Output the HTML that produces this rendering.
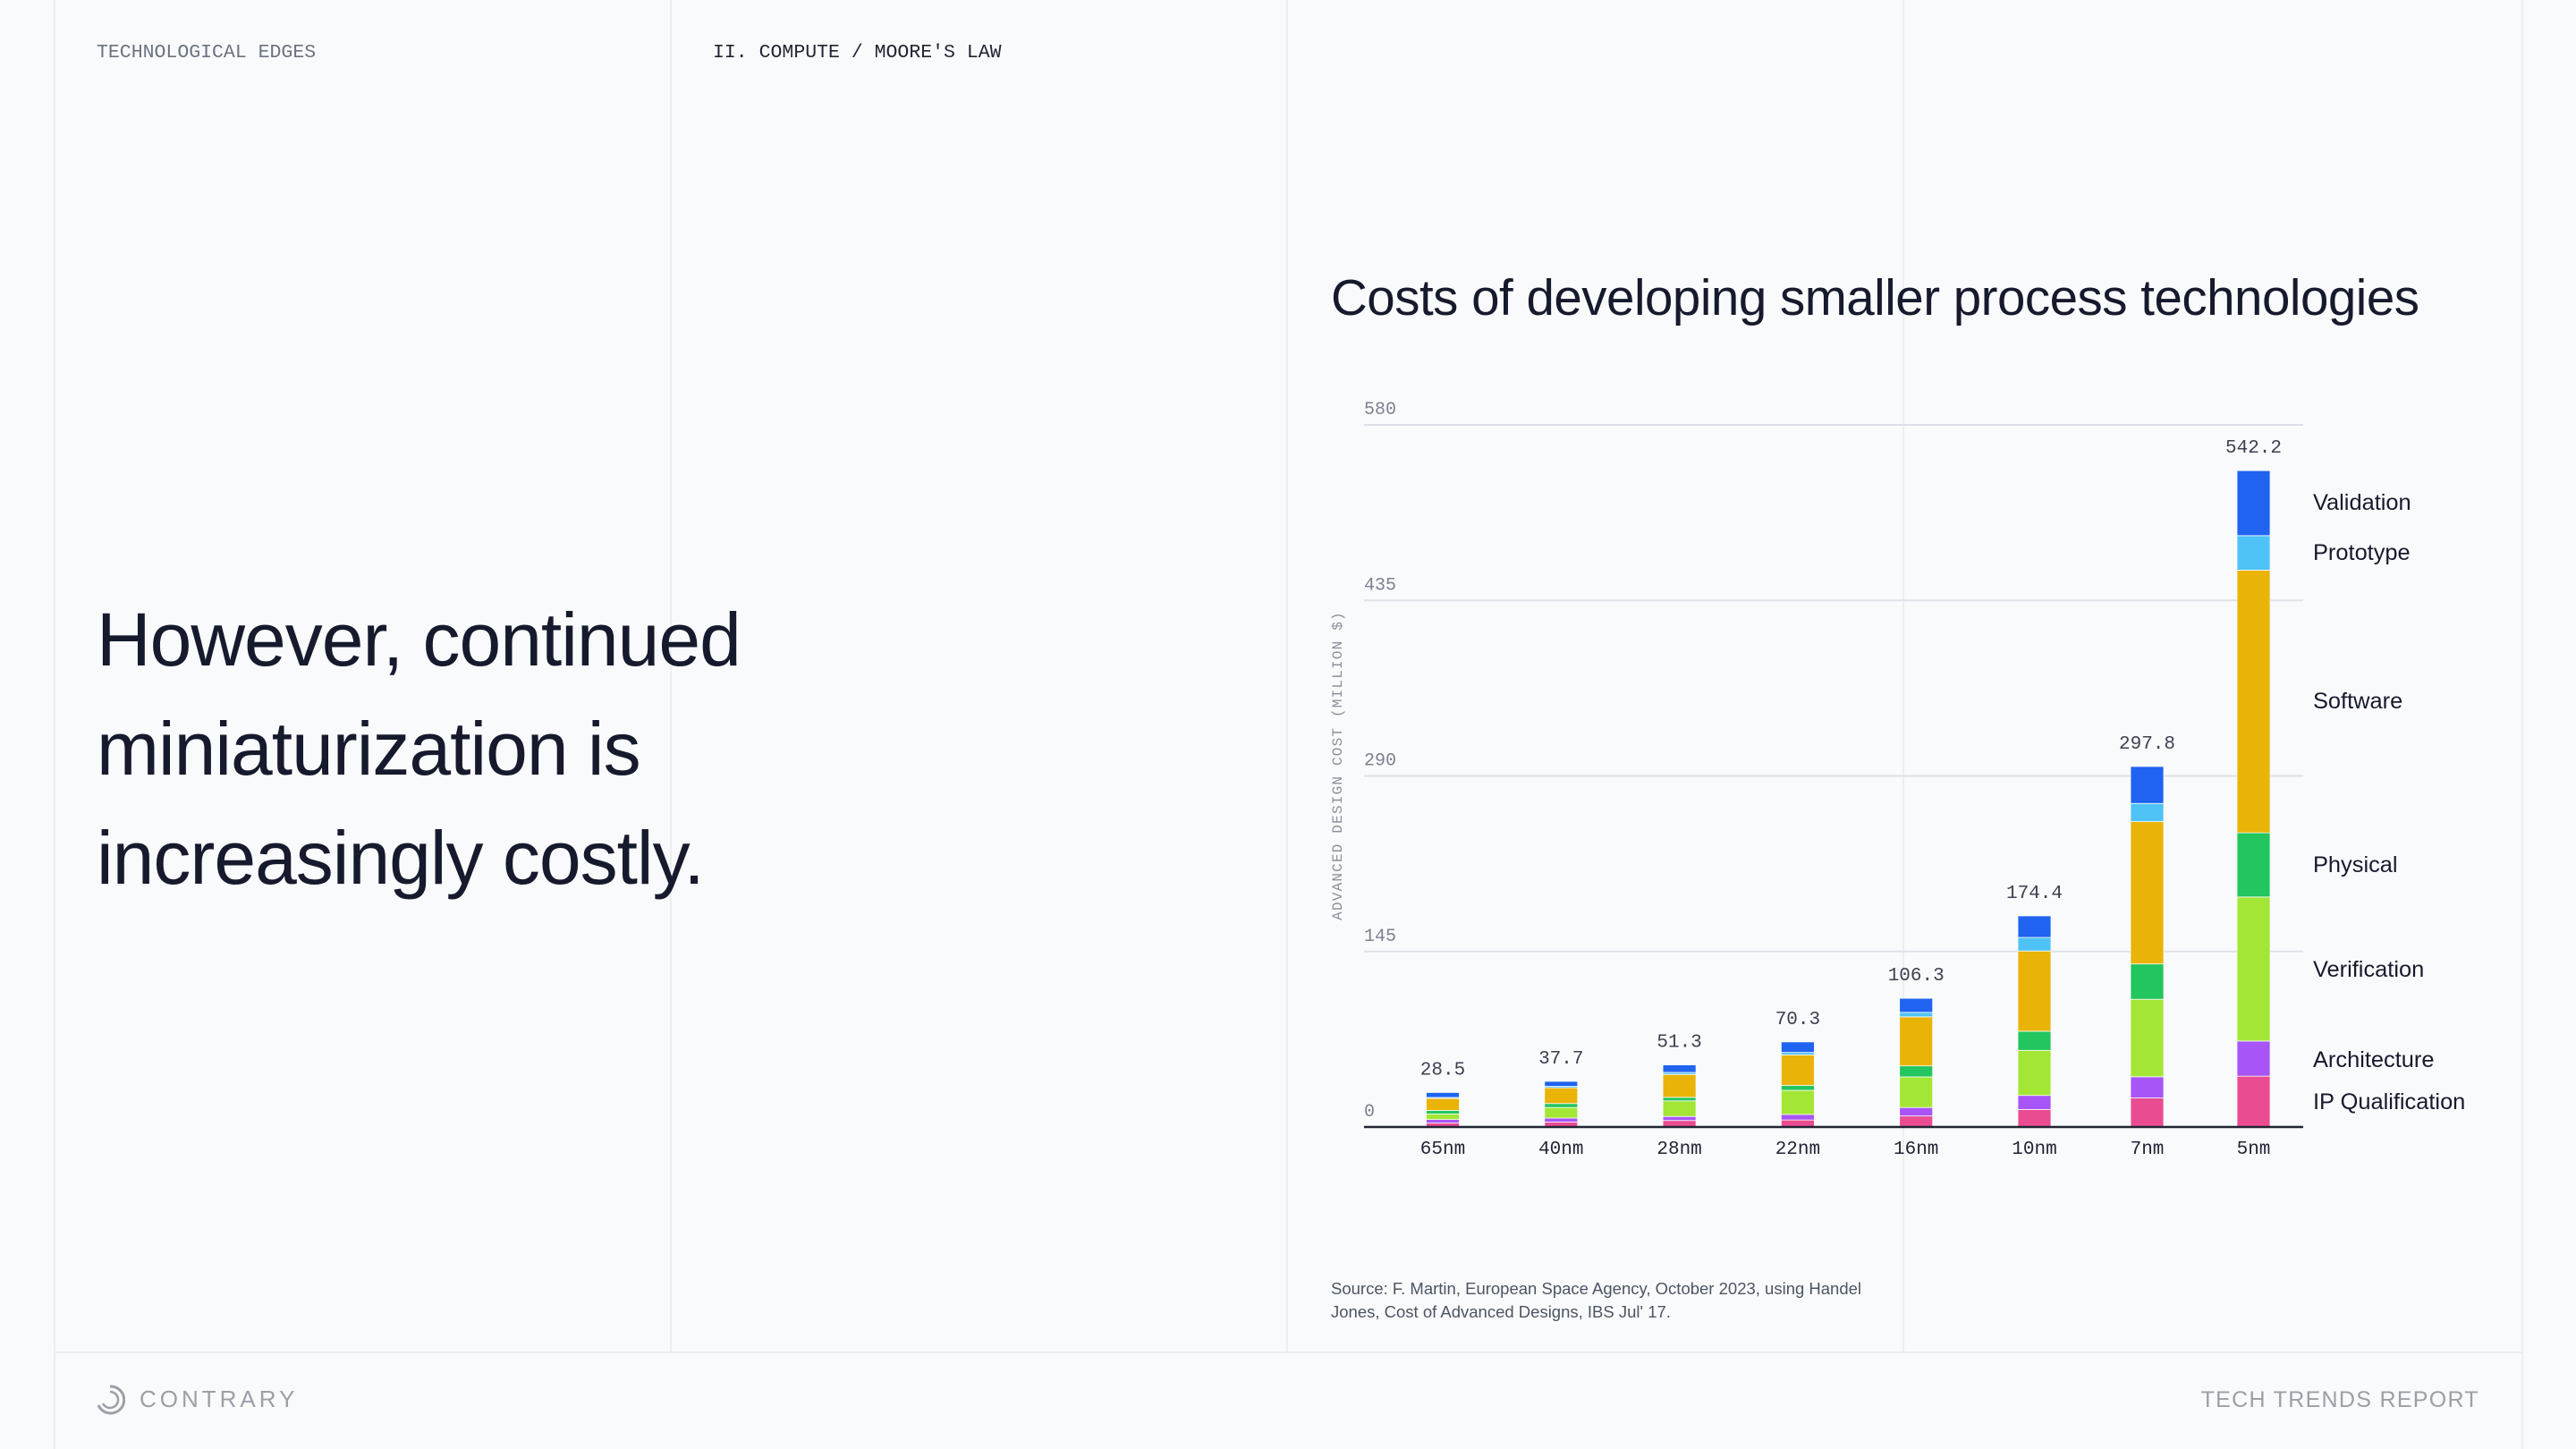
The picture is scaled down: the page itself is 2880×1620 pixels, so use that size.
<!DOCTYPE html>
<html><head><meta charset="utf-8"><style>
html,body{margin:0;padding:0;background:#f9fafb;}
body{width:2880px;height:1620px;position:relative;overflow:hidden;font-family:"Liberation Sans",sans-serif;}
.vl{position:absolute;top:0;width:2px;background:#eceef1;}
.mono{font-family:"Liberation Mono",monospace;}
</style></head><body>
<div class="vl" style="left:60px;height:1512px"></div>
<div class="vl" style="left:749px;height:1512px"></div>
<div class="vl" style="left:1438px;height:1512px"></div>
<div class="vl" style="left:2127px;height:1512px"></div>
<div class="vl" style="left:2819px;height:1620px"></div>
<div class="vl" style="left:60px;top:1512px;height:108px"></div>
<div style="position:absolute;left:60px;top:1511px;width:2760px;height:2px;background:#eceef1"></div>

<div class="mono" style="position:absolute;left:108px;top:47px;font-size:21.5px;color:#6b7280;">TECHNOLOGICAL EDGES</div>
<div class="mono" style="position:absolute;left:797px;top:47px;font-size:21.5px;color:#1f2433;">II. COMPUTE / MOORE'S LAW</div>

<div style="position:absolute;left:108px;top:654px;font-size:84px;line-height:122px;color:#151a2d;letter-spacing:-1px;">However, continued<br>miniaturization is<br>increasingly costly.</div>

<div style="position:absolute;left:1488px;top:300px;font-size:56.5px;color:#151a2d;white-space:nowrap;letter-spacing:-0.5px;">Costs of developing smaller process technologies</div>

<div style="position:absolute;left:1488px;top:1428px;font-size:18.5px;line-height:26px;color:#4b5563;">Source: F. Martin, European Space Agency, October 2023, using Handel<br>Jones, Cost of Advanced Designs, IBS Jul' 17.</div>

<div style="position:absolute;left:106px;top:1547px;">
<svg width="34" height="36" viewBox="0 0 34 36"><path d="M17 3 A15 15 0 1 1 4 24" fill="none" stroke="#9aa0a8" stroke-width="3"/><path d="M17 9 A9 9 0 1 1 9 22" fill="none" stroke="#9aa0a8" stroke-width="2.5"/></svg>
<span style="position:absolute;left:50px;top:2px;font-size:26px;letter-spacing:4px;color:#9aa0a8;">CONTRARY</span></div>
<div style="position:absolute;right:108px;top:1551px;font-size:25px;letter-spacing:1.3px;color:#9aa0a8;">TECH TRENDS REPORT</div>

<svg id="chart" width="2880" height="1620" style="position:absolute;left:0;top:0"></svg>
<script>
const categories=["65nm","40nm","28nm","22nm","16nm","10nm","7nm","5nm"];
const totals=[28.5,37.7,51.3,70.3,106.3,174.4,297.8,542.2];
const ipQualification=[3.3,4.1,5.4,5.8,9.1,14.5,24,42];
const architecture=[2.9,3.3,3.3,4.6,7,11.6,17.5,29];
const verification=[4.6,8.7,12.9,19.9,25.3,37.2,64,119];
const physical=[2.9,3.3,2.9,4.1,9.1,15.8,29.2,53];
const software=[9.9,13,18.9,25.2,40.5,66.3,117.6,217];
const prototype=[0.8,1.2,1.7,2,3.7,11.2,15,28.5];
const validation=[4.1,4.1,6.2,8.7,11.6,17.8,30.5,53.7];
const yTicks=[0,145,290,435,580];
const seriesNames=["IP Qualification","Architecture","Verification","Physical","Software","Prototype","Validation"];
const seriesColors=["#ea4c91","#a855f7","#a3e635","#22c55e","#eab308","#4fc3f7","#1f63f0"];
const series=[ipQualification,architecture,verification,physical,software,prototype,validation];

const NS="http://www.w3.org/2000/svg";
const svg=document.getElementById('chart');
const x0=1525,x1=2575,yBase=1260,yTop=475,yMax=580;
const y=v=>yBase-(v/yMax)*(yBase-yTop);
const firstC=1613,bw=37;
const xc=i=>{const n=categories.length;
  if(i<=n-3) return firstC+i*132.3;
  if(i===n-2) return firstC+(n-3)*132.3+126;
  return firstC+(n-3)*132.3+245;};
function mk(tag,attrs,parent){const e=document.createElementNS(NS,tag);for(const k in attrs)e.setAttribute(k,attrs[k]);(parent||svg).appendChild(e);return e;}

yTicks.forEach((t,i)=>{
  if(t>0){const l=mk('line',{x1:x0,x2:x1,y1:y(t),y2:y(t),stroke:'#dde1e8','stroke-width':2});
  
  }
  const tx=mk('text',{x:x0,y:y(t)-12,'font-family':'Liberation Mono, monospace','font-size':20,fill:'#7b8190'});
  tx.textContent=t;
  
  
});
const yt=mk('text',{x:0,y:0,transform:'translate(1500,856) rotate(-90)','text-anchor':'middle','font-family':'Liberation Mono, monospace','font-size':16,'letter-spacing':1.2,fill:'#8a909c'});
yt.textContent='ADVANCED DESIGN COST (MILLION $)';



categories.forEach((c,i)=>{
  let acc=0;
  series.forEach((s,j)=>{
    const v=s[i];
    const r=mk('rect',{x:xc(i)-bw/2,y:y(acc+v),width:bw,height:y(acc)-y(acc+v),fill:seriesColors[j],stroke:'#f9fafb','stroke-width':0.8});
    
    
    acc+=v;
  });
  const vl=mk('text',{x:xc(i),y:y(totals[i])-20,'text-anchor':'middle','font-family':'Liberation Mono, monospace','font-size':21,fill:'#3b4150'});
  vl.textContent=totals[i];
  
  
  const xl=mk('text',{x:xc(i),y:1290,'text-anchor':'middle','font-family':'Liberation Mono, monospace','font-size':21,fill:'#1f2433'});
  xl.textContent=c;
  
  
});
const ax=mk('line',{x1:x0,x2:x1,y1:yBase,y2:yBase,stroke:'#1f2433','stroke-width':2.5});



const legendY=[1232,1185,1084,967,784,618,562];
seriesNames.forEach((n,j)=>{
  const t=mk('text',{x:2586,y:legendY[j]+8,'font-family':'Liberation Sans, sans-serif','font-size':25.4,fill:'#151a2d'});
  t.textContent=n;
  
  
});
</script>
</body></html>
